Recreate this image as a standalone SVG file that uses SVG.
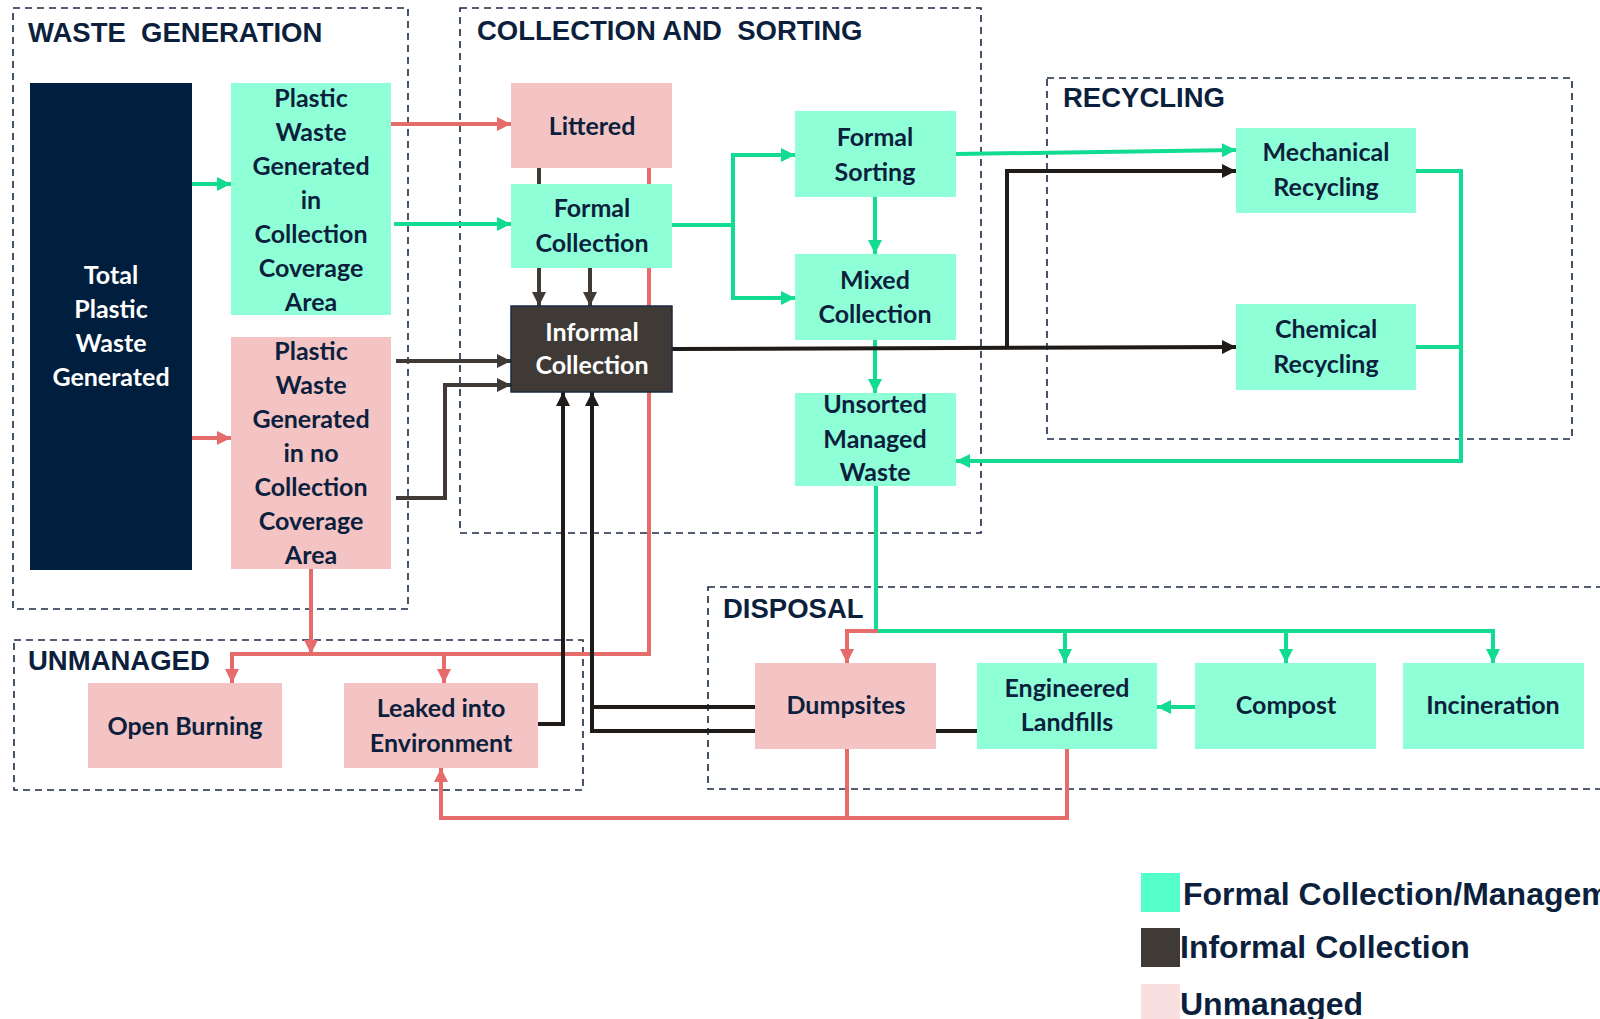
<svg xmlns="http://www.w3.org/2000/svg" width="1600" height="1019" viewBox="0 0 1600 1019">
<style>
.zone{fill:none;stroke:#1b2a44;stroke-width:1.6;stroke-dasharray:7 5}
.ttl{font-family:"Liberation Sans",Arial,sans-serif;font-weight:bold;font-size:27.5px;fill:#0c1f3d}
.lbl{font-family:Lato,"Open Sans",sans-serif;font-weight:bold;font-size:25px;fill:#0c1f3d;text-anchor:middle}
.wht{fill:#ffffff}
.g{fill:#8fffd8}
.p{fill:#f4c3c3}
.d{fill:#3f3a35;stroke:#1b2a44;stroke-width:1.5}
.n{fill:#001e3d}
.cG,.cR,.cD,.cK{fill:none;stroke-width:4}
.cG{stroke:#12dc92}
.cR{stroke:#e66c6c}
.cD{stroke:#3f3a35}
.cK{stroke:#1f1b18}
.leg{font-family:"Liberation Sans",Arial,sans-serif;font-weight:bold;font-size:32px;fill:#0c1f3d}
</style>
<defs>
<marker id="aG" markerUnits="userSpaceOnUse" markerWidth="14" markerHeight="14" refX="14" refY="7" orient="auto"><path d="M0,0 L14,7 L0,14 z" fill="#12dc92"/></marker>
<marker id="aR" markerUnits="userSpaceOnUse" markerWidth="14" markerHeight="14" refX="14" refY="7" orient="auto"><path d="M0,0 L14,7 L0,14 z" fill="#e66c6c"/></marker>
<marker id="aD" markerUnits="userSpaceOnUse" markerWidth="14" markerHeight="14" refX="14" refY="7" orient="auto"><path d="M0,0 L14,7 L0,14 z" fill="#3f3a35"/></marker>
<marker id="aK" markerUnits="userSpaceOnUse" markerWidth="14" markerHeight="14" refX="14" refY="7" orient="auto"><path d="M0,0 L14,7 L0,14 z" fill="#1f1b18"/></marker>
</defs>
<rect width="1600" height="1019" fill="#ffffff"/>

<g id="zones">
<rect class="zone" x="13" y="8" width="395" height="601"/>
<text class="ttl" x="28" y="42" xml:space="preserve">WASTE  GENERATION</text>
<rect class="zone" x="460" y="8" width="521" height="525"/>
<text class="ttl" x="477" y="40" xml:space="preserve">COLLECTION AND  SORTING</text>
<rect class="zone" x="1047" y="78" width="525" height="361"/>
<text class="ttl" x="1063" y="107">RECYCLING</text>
<rect class="zone" x="14" y="640" width="569" height="150"/>
<text class="ttl" x="28" y="670">UNMANAGED</text>
<rect class="zone" x="708" y="587" width="910" height="202"/>
<text class="ttl" x="723" y="618">DISPOSAL</text>
</g>

<g id="connectors">
<path class="cG" d="M192,184 H231" marker-end="url(#aG)"/>
<path class="cG" d="M394,224 H511" marker-end="url(#aG)"/>
<path class="cG" d="M672,225 H733 V155 H795" marker-end="url(#aG)"/>
<path class="cG" d="M733,225 V298 H795" marker-end="url(#aG)"/>
<path class="cG" d="M875,197 V254" marker-end="url(#aG)"/>
<path class="cG" d="M875,340 V393" marker-end="url(#aG)"/>
<path class="cG" d="M956,154 L1236,150" marker-end="url(#aG)"/>
<path class="cG" d="M1415,171 H1461 V461 H956" marker-end="url(#aG)"/>
<path class="cG" d="M1415,347 H1461"/>
<path class="cG" d="M876,486 V631 H1493 V663" marker-end="url(#aG)"/>
<path class="cG" d="M1065,631 V663" marker-end="url(#aG)"/>
<path class="cG" d="M1286,631 V663" marker-end="url(#aG)"/>
<path class="cG" d="M1195,707 H1157" marker-end="url(#aG)"/>

<path class="cR" d="M192,438 H231" marker-end="url(#aR)"/>
<path class="cR" d="M391,124 H511" marker-end="url(#aR)"/>
<path class="cR" d="M311,569 V654" marker-end="url(#aR)"/>
<path class="cR" d="M649,168 V654 H232 V683" marker-end="url(#aR)"/>
<path class="cR" d="M444,654 V683" marker-end="url(#aR)"/>
<path class="cR" d="M878,631 H847 V663" marker-end="url(#aR)"/>
<path class="cR" d="M847,749 V818"/>
<path class="cR" d="M1067,749 V818 H441 V768" marker-end="url(#aR)"/>

<path class="cD" d="M396,361 H511" marker-end="url(#aD)"/>
<path class="cD" d="M396,498 H445 V385 H511" marker-end="url(#aD)"/>
<path class="cD" d="M539,168 V306" marker-end="url(#aD)"/>
<path class="cD" d="M590,268 V306" marker-end="url(#aD)"/>

<path class="cK" d="M672,349 L1236,347" marker-end="url(#aK)"/>
<path class="cK" d="M1007,349 V171 H1236" marker-end="url(#aK)"/>
<path class="cK" d="M538,724 H563 V392" marker-end="url(#aK)"/>
<path class="cK" d="M977,731 H592 V392" marker-end="url(#aK)"/>
<path class="cK" d="M755,707 H592"/>
</g>

<g id="total">
<rect class="n" x="30" y="83" width="162" height="487"/>
<text class="lbl wht" x="111"><tspan x="111" y="284">Total</tspan><tspan x="111" y="318">Plastic</tspan><tspan x="111" y="352">Waste</tspan><tspan x="111" y="386">Generated</tspan></text>
</g>
<g id="gen-coverage">
<rect class="g" x="231" y="83" width="160" height="232"/>
<text class="lbl"><tspan x="311" y="107">Plastic</tspan><tspan x="311" y="141">Waste</tspan><tspan x="311" y="175">Generated</tspan><tspan x="311" y="209">in</tspan><tspan x="311" y="243">Collection</tspan><tspan x="311" y="277">Coverage</tspan><tspan x="311" y="311">Area</tspan></text>
</g>
<g id="gen-nocoverage">
<rect class="p" x="231" y="337" width="160" height="232"/>
<text class="lbl"><tspan x="311" y="360">Plastic</tspan><tspan x="311" y="394">Waste</tspan><tspan x="311" y="428">Generated</tspan><tspan x="311" y="462">in no</tspan><tspan x="311" y="496">Collection</tspan><tspan x="311" y="530">Coverage</tspan><tspan x="311" y="564">Area</tspan></text>
</g>
<g id="littered">
<rect class="p" x="511" y="83" width="161" height="85"/>
<text class="lbl" x="592" y="135">Littered</text>
</g>
<g id="formal-collection">
<rect class="g" x="511" y="184" width="161" height="84"/>
<text class="lbl"><tspan x="592" y="217">Formal</tspan><tspan x="592" y="252">Collection</tspan></text>
</g>
<g id="informal-collection">
<rect class="d" x="511" y="306" width="161" height="86"/>
<text class="lbl wht"><tspan x="592" y="341">Informal</tspan><tspan x="592" y="374">Collection</tspan></text>
</g>
<g id="formal-sorting">
<rect class="g" x="795" y="111" width="161" height="86"/>
<text class="lbl"><tspan x="875" y="146">Formal</tspan><tspan x="875" y="181">Sorting</tspan></text>
</g>
<g id="mixed-collection">
<rect class="g" x="795" y="254" width="161" height="86"/>
<text class="lbl"><tspan x="875" y="289">Mixed</tspan><tspan x="875" y="323">Collection</tspan></text>
</g>
<g id="unsorted">
<rect class="g" x="795" y="393" width="161" height="93"/>
<text class="lbl"><tspan x="875" y="413">Unsorted</tspan><tspan x="875" y="448">Managed</tspan><tspan x="875" y="481">Waste</tspan></text>
</g>
<g id="mechanical">
<rect class="g" x="1236" y="128" width="180" height="85"/>
<text class="lbl"><tspan x="1326" y="161">Mechanical</tspan><tspan x="1326" y="196">Recycling</tspan></text>
</g>
<g id="chemical">
<rect class="g" x="1236" y="304" width="180" height="86"/>
<text class="lbl"><tspan x="1326" y="338">Chemical</tspan><tspan x="1326" y="373">Recycling</tspan></text>
</g>
<g id="open-burning">
<rect class="p" x="88" y="683" width="194" height="85"/>
<text class="lbl" x="185" y="735">Open Burning</text>
</g>
<g id="leaked">
<rect class="p" x="344" y="683" width="194" height="85"/>
<text class="lbl"><tspan x="441" y="717">Leaked into</tspan><tspan x="441" y="752">Environment</tspan></text>
</g>
<g id="dumpsites">
<rect class="p" x="755" y="663" width="181" height="86"/>
<text class="lbl" x="846" y="714">Dumpsites</text>
</g>
<g id="landfills">
<rect class="g" x="977" y="663" width="180" height="86"/>
<text class="lbl"><tspan x="1067" y="697">Engineered</tspan><tspan x="1067" y="731">Landfills</tspan></text>
</g>
<g id="compost">
<rect class="g" x="1195" y="663" width="181" height="86"/>
<text class="lbl" x="1286" y="714">Compost</text>
</g>
<g id="incineration">
<rect class="g" x="1403" y="663" width="181" height="86"/>
<text class="lbl" x="1493" y="714">Incineration</text>
</g>

<g id="legend">
<rect x="1141" y="873" width="39" height="39" fill="#55ffc9"/>
<text class="leg" x="1183" y="905">Formal Collection/Management</text>
<rect x="1141" y="928" width="39" height="39" fill="#3f3a35"/>
<text class="leg" x="1180" y="958">Informal Collection</text>
<rect x="1141" y="984" width="39" height="40" fill="#f9dfdf"/>
<text class="leg" x="1180" y="1015">Unmanaged</text>
</g>
</svg>
